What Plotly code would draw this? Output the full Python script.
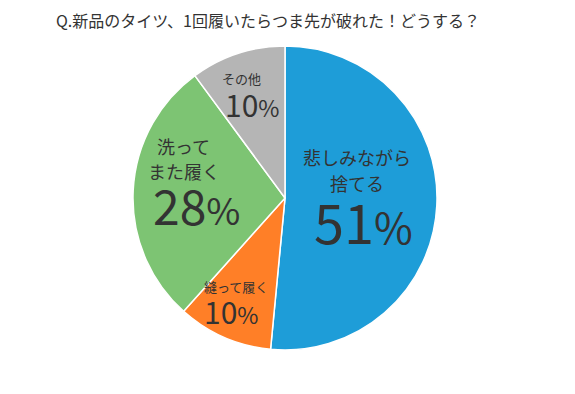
import math
import plotly.graph_objects as go

title = "Q.新品のタイツ、1回履いたらつま先が破れた！どうする？"
categories = [["悲しみながら", "捨てる"], ["縫って履く"], ["洗って", "また履く"], ["その他"]]
values = [51, 10, 28, 10]
pct_labels = ["51", "10", "28", "10"]
colors = ["#1E9DD8", "#FF7F27", "#7DC473", "#B5B5B5"]

# per slice: radial fraction, category font size, line offsets (dx, dy) px, pct size, pct offset
styles = [
    dict(frac=0.49, fs=18, offs=[(-2, -44.5), (-2, -18.5)], ps=54, poff=(4, 19)),
    dict(frac=0.74, fs=13, offs=[(-4, -15)], ps=30, poff=(-8, 10)),
    dict(frac=0.64, fs=18, offs=[(-4, -47), (-4, -22)], ps=48, poff=(9, 11)),
    dict(frac=0.74, fs=13, offs=[(-8, -13)], ps=30, poff=(3, 13)),
]

W, H = 575, 394
OFF = 8  # page body offset
ml, mr, mt, mb = 0, 21, 38, 52
PW, PH = W - ml - mr, H - mt - mb
cx_s = ml + PW / 2 + OFF
cy_s = mt + PH / 2 + OFF
R = min(PW, PH) / 2


def to_paper(sx, sy):
    fx, fy = sx - OFF, sy - OFF
    return (fx - ml) / PW, 1 - (fy - mt) / PH


fig = go.Figure(go.Pie(
    values=values,
    labels=["".join(c) for c in categories],
    marker=dict(colors=colors, line=dict(color="white", width=1.5)),
    sort=False, direction="clockwise", rotation=0,
    textinfo="none", hoverinfo="label+value", showlegend=False,
))

FONT = "Noto Sans CJK JP, Noto Sans, sans-serif"
total = sum(values)
annotations = []
start = 0.0
for cat, pct, v, st in zip(categories, pct_labels, values, styles):
    mid = (start + v / 2) / total * 2 * math.pi
    start += v
    ax = cx_s + R * st["frac"] * math.sin(mid)
    ay = cy_s - R * st["frac"] * math.cos(mid)
    for line, (dx, dy) in zip(cat, st["offs"]):
        x, y = to_paper(ax + dx, ay + dy)
        annotations.append(dict(x=x, y=y, xref="paper", yref="paper", text=line,
                                showarrow=False, xanchor="center", yanchor="middle",
                                font=dict(family=FONT, size=st["fs"], color="#333333")))
    x, y = to_paper(ax + st["poff"][0], ay + st["poff"][1])
    ptxt = pct + "<span style='font-size:%dpx'>%%</span>" % round(st["ps"] * 0.78)
    annotations.append(dict(x=x, y=y, xref="paper", yref="paper", text=ptxt,
                            showarrow=False, xanchor="center", yanchor="middle",
                            font=dict(family=FONT, size=st["ps"], color="#333333")))

tx, ty = to_paper(268, 20)
annotations.append(dict(x=tx, y=ty, xref="paper", yref="paper", text=title,
                        showarrow=False, xanchor="center", yanchor="middle",
                        font=dict(family=FONT, size=16, color="#333333")))

fig.update_layout(
    width=W, height=H,
    margin=dict(l=ml, r=mr, t=mt, b=mb),
    paper_bgcolor="white", plot_bgcolor="white",
    annotations=annotations,
)
fig.write_html("out.html")
